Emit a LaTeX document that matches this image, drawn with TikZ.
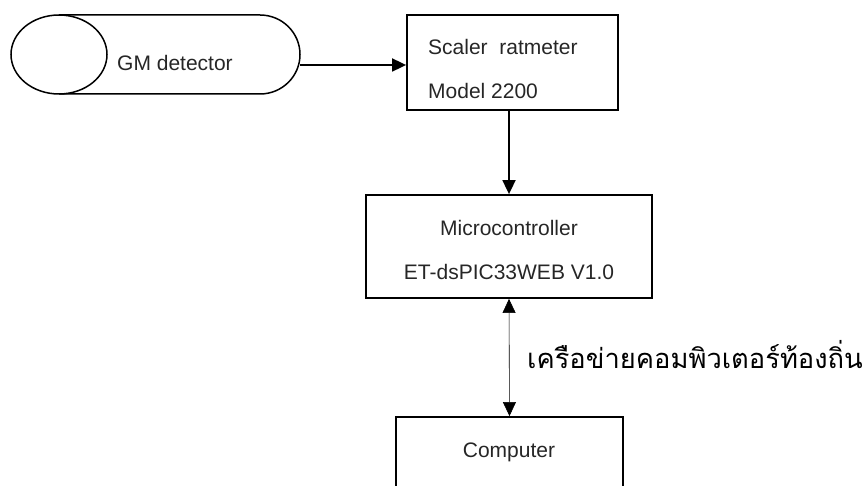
\documentclass[tikz,border=0pt]{standalone}
\usepackage{fontspec}
\setmainfont{Liberation Sans}
\newfontfamily\thaifont[Script=Thai]{Loma}
\usetikzlibrary{arrows.meta}
\tikzset{
  box/.style={draw, line width=1.8pt, rectangle, inner sep=0pt},
  lbl/.style={inner sep=0pt, font=\fontsize{21}{24}\selectfont, text=black!85},
  arrowthick/.style={line width=1.8pt, -{Triangle[length=14pt,width=13pt]}},
  arrowthin/.style={line width=0.6pt, {Triangle[length=14pt,width=13pt]}-{Triangle[length=14pt,width=13pt]}},
  shapeline/.style={line width=1.5pt}
}
\begin{document}
\begin{tikzpicture}[x=1pt,y=-1pt]
\useasboundingbox (0,0) rectangle (863,486);
\clip (0,0) rectangle (863,486);
% GM detector cylinder
\draw[shapeline] (59,15) -- (260,15) arc[start angle=90, end angle=-90, x radius=40pt, y radius=39.5pt] -- (59,94);
\draw[shapeline] (59,54.5) ellipse[x radius=48pt, y radius=39.5pt];
\node[lbl, anchor=west] (gmtext) at (117,63) {GM detector};
\coordinate (gmE) at (300,65);
% boxes
\node[box, minimum width=211pt, minimum height=95pt] (scaler) at (512.5,62.5) {};
\node[lbl, anchor=west] (sc1) at (428,47) {Scaler\ \ ratmeter};
\node[lbl, anchor=west] (sc2) at (428,91) {Model 2200};
\node[box, minimum width=286.5pt, minimum height=103pt] (micro) at (509,246.5) {};
\node[lbl] (mc1) at (509,228) {Microcontroller};
\node[lbl] (mc2) at (509,272) {ET-dsPIC33WEB V1.0};
\node[box, minimum width=227pt, minimum height=100pt] (comp) at (509.5,467) {};
\node[lbl] (cp) at (509,452) {Computer};
% connectors
\draw[arrowthick] (gmE) -- (gmE -| scaler.west);
\draw[arrowthick] (micro.north |- scaler.south) -- (micro.north);
\draw[arrowthin] (micro.south) -- (comp.north);
\node[anchor=west, inner sep=0pt, font=\thaifont\fontsize{27.3}{30}\selectfont] (net) at (527,355) {เครือข่ายคอมพิวเตอร์ท้องถิ่น};
\end{tikzpicture}
\end{document}
